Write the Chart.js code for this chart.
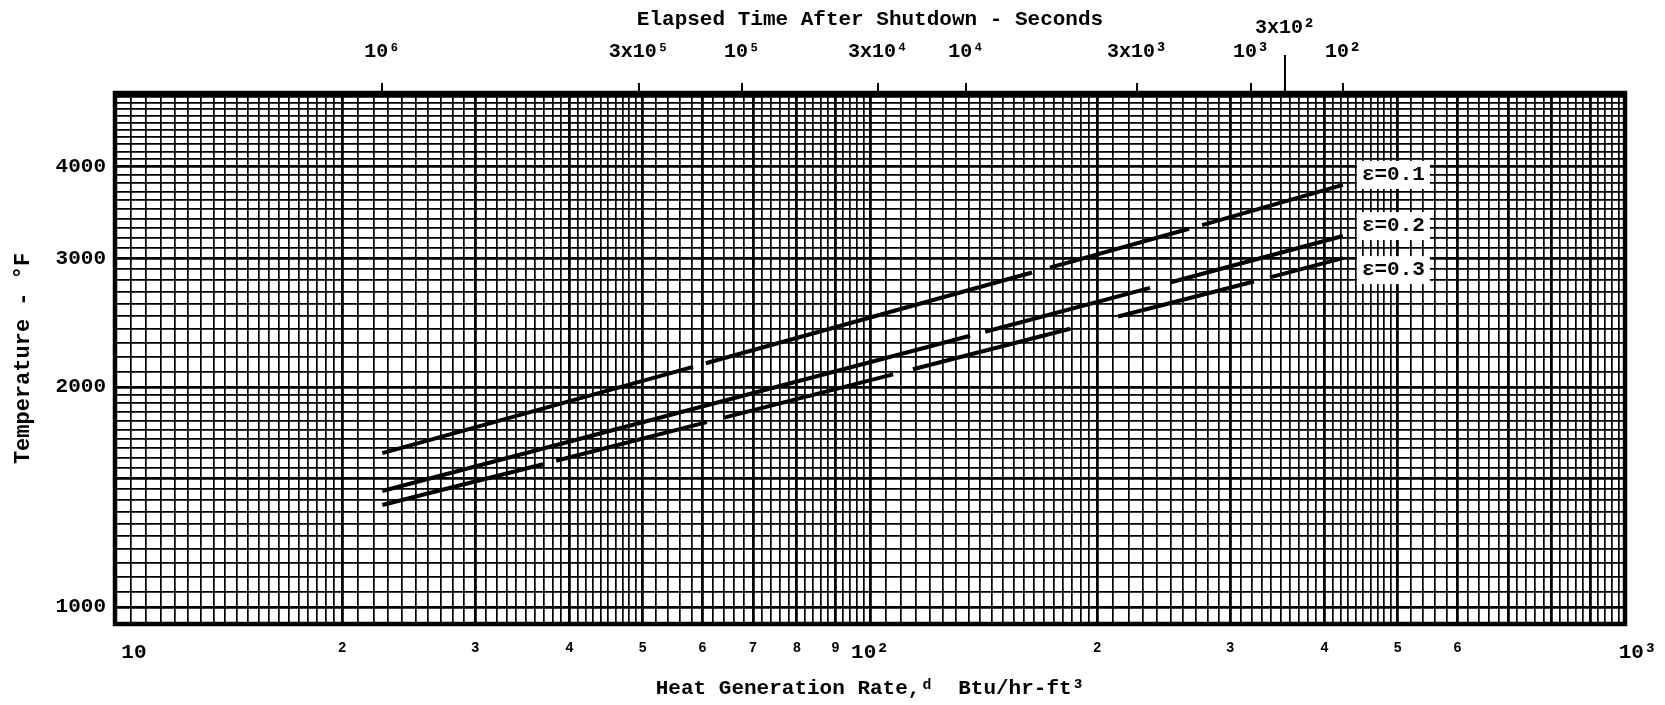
<!DOCTYPE html>
<html>
<head>
<meta charset="utf-8">
<title>Temperature vs Heat Generation Rate</title>
<script src="https://cdn.jsdelivr.net/npm/chart.js@4.4.1/dist/chart.umd.min.js"></script>
<style>
  html, body { margin: 0; padding: 0; background: #fff; }
  #wrap { width: 1665px; height: 705px; }
</style>
</head>
<body>
<div id="wrap"><canvas id="tempChart" width="1665" height="705"></canvas></div>
<script>
// bottom axis: heat generation rate, Btu/hr-ft3
const rateTicks = [10, 20, 30, 40, 50, 60, 70, 80, 90, 100, 200, 300, 400, 500, 600, 1000];
const rateTickLabels = ['   10', '2', '3', '4', '5', '6', '7', '8', '9', '10²', '2', '3', '4', '5', '6', '  10³'];

// left axis: temperature, °F
const tempTicks = [1000, 2000, 3000, 4000];
const tempTickLabels = ['1000', '2000', '3000', '4000'];

// top axis: elapsed time after shutdown, placed at the matching rate
const timeTickRates = [22.6, 49.4, 67.7, 102.5, 134.1, 225.7, 319.6, 354.5, 423];
const timeTickLabels = ['10⁶', '3x10⁵', '10⁵', '3x10⁴', '10⁴', '3x10³', '10³', '3x10²', '10²'];

// curves, each one a run of straight pieces [start, end]
const curveNames = ['ε=0.1', 'ε=0.2', 'ε=0.3'];
const e01Rate = [[22.6, 58.3], [60.6, 163.9], [173.1, 264.6], [275.3, 423]];
const e01Temp = [[1624, 2131], [2155, 2868], [2913, 3292], [3330, 3779]];
const e02Rate = [[22.6, 135.7], [142.1, 234.9], [249.7, 423]];
const e02Temp = [[1441, 2350], [2380, 2732], [2779, 3217]];
const e03Rate = [[22.6, 36.9], [38.4, 60.8], [64.1, 107.3], [114.0, 184.1], [213.1, 322.5], [338.6, 423]];
const e03Temp = [[1379, 1568], [1585, 1790], [1816, 2081], [2115, 2402], [2497, 2788], [2824, 3001]];

const MONO = '"Liberation Mono", "DejaVu Sans Mono", monospace';

// join the pieces, a null point between them leaves the gap
function pieces(rates, temps) {
    const out = [];
    rates.forEach((seg, i) => {
        if (i > 0) out.push({ x: seg[0], y: null });
        out.push({ x: seg[0], y: temps[i][0] });
        out.push({ x: seg[1], y: temps[i][1] });
    });
    return out;
}

// log paper rulings
function rulings(bands, last) {
    const out = [];
    bands.forEach(([from, to, step]) => {
        const n = Math.round((to - from) / step);
        for (let i = 0; i < n; i++) out.push(+(from + i * step).toFixed(2));
    });
    out.push(last);
    return out;
}
const rateRulings = rulings([[10, 20, 0.5], [20, 50, 1], [50, 100, 2], [100, 200, 5], [200, 500, 10], [500, 1000, 20]], 1000);
const tempRulings = rulings([[950, 2000, 50], [2000, 5000, 100]], 5000);

function labelFor(v, values, labels) {
    const i = values.findIndex(t => Math.abs(t - v) < t * 1e-6);
    return i < 0 ? '' : labels[i];
}
function heavyRate(v) {
    const d = Math.pow(10, Math.floor(Math.log10(v) + 1e-9));
    return Math.abs(v / d - Math.round(v / d)) < 1e-6;
}
function heavyTemp(v) {
    return v % 1000 === 0 || (v <= 2000 && v % 500 === 0);
}
// the end labels may hang past the frame, keep the plot area fixed
function noSidePad(s) {
    s.paddingLeft = 0;
    s.paddingRight = 0;
}

const paperFrame = {
    id: 'paperFrame',
    beforeDatasetsDraw(chart) {
        const { ctx, chartArea: a } = chart;
        const top = chart.scales.xTop;
        ctx.save();
        ctx.strokeStyle = '#000';
        ctx.lineWidth = 4.5;
        ctx.strokeRect(a.left, a.top, a.right - a.left, a.bottom - a.top);
        // the 3x10² mark gets a long tick
        const i = timeTickLabels.indexOf('3x10²');
        const px = top.getPixelForValue(timeTickRates[i]);
        ctx.lineWidth = 2;
        ctx.beginPath();
        ctx.moveTo(px, a.top);
        ctx.lineTo(px, a.top - 38);
        ctx.stroke();
        ctx.restore();
    }
};

const labelShift = [-10, -10, 12];
const curveLabels = {
    id: 'curveLabels',
    afterDatasetsDraw(chart) {
        const ctx = chart.ctx;
        ctx.save();
        ctx.font = 'bold 21px ' + MONO;
        ctx.textBaseline = 'middle';
        chart.data.datasets.forEach((ds, i) => {
            const pts = chart.getDatasetMeta(i).data;
            const end = pts[pts.length - 1];
            const x = end.x + 19;
            const y = end.y + labelShift[i];
            const w = ctx.measureText(ds.label).width;
            ctx.fillStyle = '#fff';
            ctx.fillRect(x - 5, y - 14, w + 10, 28);
            ctx.fillStyle = '#000';
            ctx.fillText(ds.label, x, y);
        });
        ctx.restore();
    }
};

const lineStyle = {
    borderColor: '#000',
    borderWidth: 4,
    pointRadius: 0,
    spanGaps: false,
    fill: false,
    tension: 0
};

new Chart(document.getElementById('tempChart'), {
    type: 'line',
    data: {
        datasets: [
            Object.assign({ label: curveNames[0], data: pieces(e01Rate, e01Temp) }, lineStyle),
            Object.assign({ label: curveNames[1], data: pieces(e02Rate, e02Temp) }, lineStyle),
            Object.assign({ label: curveNames[2], data: pieces(e03Rate, e03Temp) }, lineStyle)
        ]
    },
    options: {
        responsive: false,
        animation: false,
        devicePixelRatio: 1,
        layout: { padding: { right: 40 } },
        plugins: {
            legend: { display: false },
            tooltip: { enabled: false }
        },
        scales: {
            x: {
                type: 'logarithmic',
                position: 'bottom',
                min: 10,
                max: 1000,
                afterBuildTicks: s => { s.ticks = rateRulings.map(v => ({ value: v })); },
                afterFit: s => { s.height = 81; noSidePad(s); },
                ticks: {
                    autoSkip: false,
                    maxRotation: 0,
                    minRotation: 0,
                    padding: 16,
                    color: '#000',
                    font: ctx => {
                        const v = ctx.tick ? ctx.tick.value : 0;
                        const big = v === 10 || v === 100 || v === 1000;
                        return { family: MONO, size: big ? 21 : 14, weight: 'bold' };
                    },
                    callback: v => labelFor(v, rateTicks, rateTickLabels)
                },
                grid: {
                    drawTicks: false,
                    color: '#000',
                    lineWidth: ctx => (ctx.tick && heavyRate(ctx.tick.value)) ? 2.8 : 1.7
                },
                border: { display: false },
                title: {
                    display: true,
                    text: 'Heat Generation Rate,ᵈ  Btu/hr-ft³',
                    color: '#000',
                    padding: { bottom: 4 },
                    font: { family: MONO, size: 21, weight: 'bold' }
                }
            },
            xTop: {
                type: 'logarithmic',
                position: 'top',
                min: 10,
                max: 1000,
                afterBuildTicks: s => { s.ticks = timeTickRates.map(v => ({ value: v })); },
                afterFit: s => { s.height = 93; noSidePad(s); },
                ticks: {
                    autoSkip: false,
                    maxRotation: 0,
                    minRotation: 0,
                    padding: 19,
                    color: '#000',
                    font: { family: MONO, size: 20, weight: 'bold' },
                    callback: (v, i) => timeTickLabels[i] === '3x10²' ? [timeTickLabels[i], ''] : timeTickLabels[i]
                },
                grid: { drawOnChartArea: false, drawTicks: true, tickLength: 10, color: '#000', lineWidth: 2 },
                border: { display: false },
                title: {
                    display: true,
                    text: 'Elapsed Time After Shutdown - Seconds',
                    color: '#000',
                    padding: { top: 7 },
                    font: { family: MONO, size: 21, weight: 'bold' }
                }
            },
            y: {
                type: 'logarithmic',
                min: 948,
                max: 5048,
                afterBuildTicks: s => { s.ticks = tempRulings.map(v => ({ value: v })); },
                afterFit: s => { s.width = 115; },
                ticks: {
                    autoSkip: false,
                    padding: 9,
                    color: '#000',
                    font: { family: MONO, size: 21, weight: 'bold' },
                    callback: v => labelFor(v, tempTicks, tempTickLabels)
                },
                grid: {
                    drawTicks: false,
                    color: '#000',
                    lineWidth: ctx => (ctx.tick && heavyTemp(ctx.tick.value)) ? 2.8 : 1.7
                },
                border: { display: false },
                title: {
                    display: true,
                    text: 'Temperature - °F',
                    color: '#000',
                    padding: { top: 10 },
                    font: { family: MONO, size: 22, weight: 'bold' }
                }
            }
        }
    },
    plugins: [paperFrame, curveLabels]
});
</script>
</body>
</html>
